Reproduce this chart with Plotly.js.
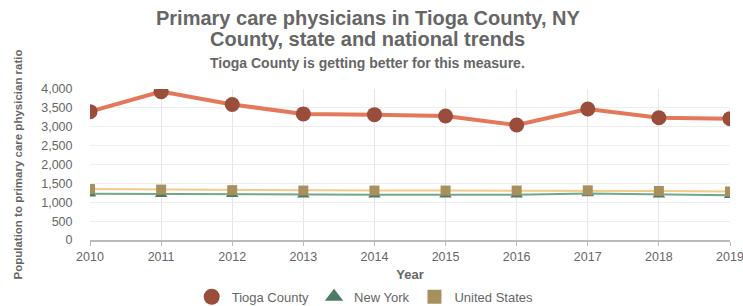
<!DOCTYPE html>
<html>
<head>
<meta charset="utf-8">
<script src="https://cdn.plot.ly/plotly-3.0.1.min.js"></script>
<style>html,body{margin:0;padding:0;background:#fff}#chart{width:743px;height:306px}</style>
</head>
<body>
<div id="chart"></div>
<script>
const years = [2010, 2011, 2012, 2013, 2014, 2015, 2016, 2017, 2018, 2019];
const tioga = [3400, 3930, 3590, 3340, 3320, 3285, 3045, 3470, 3240, 3215];
const newYork = [1225, 1215, 1210, 1200, 1200, 1200, 1200, 1230, 1200, 1185];
const unitedStates = [1350, 1335, 1320, 1310, 1310, 1310, 1310, 1315, 1300, 1285];
const yTicks = [0, 500, 1000, 1500, 2000, 2500, 3000, 3500, 4000];
const seriesNames = ['Tioga County', 'New York', 'United States'];

const styles = [
  {line: {color: '#E4785A', width: 4}, marker: {symbol: 'circle', size: 15, color: '#9B4D3B'}, legendSize: 18},
  {line: {color: '#6FA88A', width: 2}, marker: {symbol: 'triangle-up', size: 11, color: '#4D7C66'}, legendSize: 16},
  {line: {color: '#F5C98C', width: 2}, marker: {symbol: 'square', size: 10, color: '#A8905E'}, legendSize: 14}
];
const values = [tioga, newYork, unitedStates];

const traces = [];
values.forEach((v, i) => {
  traces.push({x: years, y: v, name: seriesNames[i], mode: 'lines+markers',
    line: styles[i].line, marker: styles[i].marker, showlegend: false});
});
values.forEach((v, i) => {
  traces.push({x: [null], y: [null], name: seriesNames[i], mode: 'markers',
    marker: Object.assign({}, styles[i].marker, {size: styles[i].legendSize}), showlegend: true});
});

const layout = {
  width: 743, height: 306,
  margin: {l: 90, r: 13, t: 89, b: 66},
  paper_bgcolor: '#fff', plot_bgcolor: '#fff',
  font: {family: 'Liberation Sans, Arial, sans-serif', color: '#666', size: 12},
  annotations: [
    {text: '<b>Primary care physicians in Tioga County, NY</b>',
     xref: 'paper', yref: 'paper', x: 0.434, y: 1, yshift: 71, yanchor: 'middle',
     showarrow: false, font: {size: 20, color: '#666'}},
    {text: '<b>County, state and national trends</b>',
     xref: 'paper', yref: 'paper', x: 0.434, y: 1, yshift: 50, yanchor: 'middle',
     showarrow: false, font: {size: 20, color: '#666'}},
    {text: '<b>Tioga County is getting better for this measure.</b>',
     xref: 'paper', yref: 'paper', x: 0.434, y: 1, yshift: 26, yanchor: 'middle',
     showarrow: false, font: {size: 14, color: '#666'}}],
  xaxis: {range: [2010, 2019], tickvals: years, ticktext: years.map(String), automargin: false,
          ticklabeloverflow: 'allow',
          showgrid: true, gridcolor: '#e6e6e6', zeroline: false,
          showline: true, linecolor: '#bbb', linewidth: 1.5,
          ticks: 'outside', ticklen: 4, tickcolor: '#bbb',
          tickfont: {size: 12.5, color: '#666'},
          title: {text: '<b>Year</b>', font: {size: 13, color: '#666'}, standoff: 11}},
  yaxis: {range: [0, 4000], tickvals: yTicks, ticktext: yTicks.map(v => v.toLocaleString('en-US')), automargin: false,
          showgrid: true, gridcolor: '#eeeeee', zeroline: false,
          tickfont: {size: 12.5, color: '#666'}, ticklen: 14, ticks: 'outside', tickcolor: '#fff',
          title: {text: '<b>Population to primary care physician ratio</b>', font: {size: 11.5, color: '#666'}, standoff: 16}},
  legend: {orientation: 'h', x: 0.43, xanchor: 'center', yref: 'container', y: 0.03, yanchor: 'middle',
           font: {size: 13, color: '#666'}, itemwidth: 30, tracegroupgap: 0, itemsizing: 'trace'},
  showlegend: true
};

Plotly.newPlot('chart', traces, layout, {displayModeBar: false, staticPlot: true});
</script>
</body>
</html>
